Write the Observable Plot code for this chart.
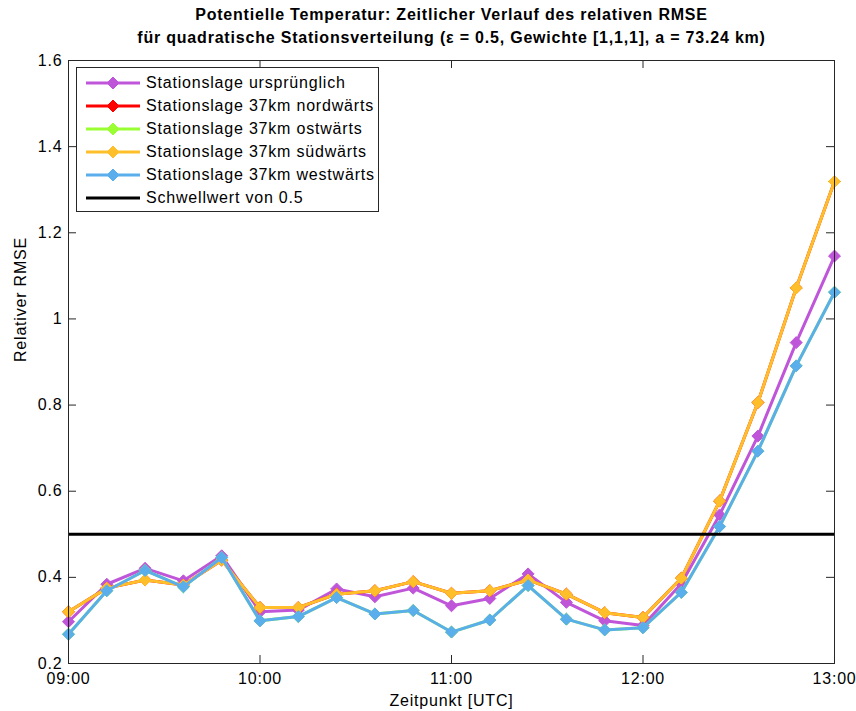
<!DOCTYPE html>
<html>
<head>
<meta charset="utf-8">
<script src="https://cdn.jsdelivr.net/npm/d3@7"></script>
<script src="https://cdn.jsdelivr.net/npm/@observablehq/plot@0.6"></script>
<style>
  html, body { margin: 0; padding: 0; background: #fff; }
  #wrap { position: relative; width: 856px; height: 711px; font-family: "Liberation Sans", Arial, sans-serif; }
  #wrap svg text { letter-spacing: 0.8px; }
  #legend { position: absolute; left: 76px; top: 67px; width: 303px; height: 145px; border: 1px solid #262626; background: #fff; box-sizing: border-box; }
  .row { position: absolute; left: 0; height: 20px; display: flex; align-items: center; }
  .row span { font-size: 16px; letter-spacing: 0.8px; color: #000; margin-left: 6px; white-space: nowrap; }
</style>
</head>
<body>
<div id="wrap"><div id="legend"></div></div>
<script>
// ---- data ----
const times = ["09:00","09:12","09:24","09:36","09:48","10:00","10:12","10:24","10:36","10:48","11:00",
               "11:12","11:24","11:36","11:48","12:00","12:12","12:24","12:36","12:48","13:00"];
const ursprunglich = [0.297,0.384,0.421,0.392,0.450,0.320,0.324,0.373,0.355,0.375,0.334,
                      0.351,0.408,0.342,0.299,0.288,0.385,0.545,0.728,0.945,1.146];
const nordwarts    = [0.320,0.375,0.394,0.382,0.440,0.330,0.330,0.361,0.369,0.390,0.363,
                      0.369,0.394,0.361,0.318,0.307,0.398,0.577,0.806,1.072,1.319];
const ostwarts     = [0.268,0.369,0.416,0.378,0.446,0.299,0.309,0.353,0.315,0.323,0.273,
                      0.301,0.381,0.303,0.278,0.283,0.365,0.518,0.693,0.891,1.062];
const sudwarts     = [0.320,0.375,0.394,0.382,0.440,0.330,0.330,0.361,0.369,0.390,0.363,
                      0.369,0.394,0.361,0.318,0.307,0.398,0.577,0.806,1.072,1.319];
const westwarts    = [0.268,0.369,0.416,0.378,0.446,0.299,0.309,0.353,0.315,0.323,0.273,
                      0.301,0.381,0.303,0.278,0.283,0.365,0.518,0.693,0.891,1.062];
const threshold = 0.5;
const seriesNames = ["Stationslage ursprünglich","Stationslage 37km nordwärts","Stationslage 37km ostwärts",
                     "Stationslage 37km südwärts","Stationslage 37km westwärts"];
const seriesColors = ["#bf55d9","#ff0000","#99ff33","#ffbf2a","#5aaeeb"];
const thresholdLabel = "Schwellwert von 0.5";
const xTickLabels = ["09:00","10:00","11:00","12:00","13:00"];
const yTicks = [0.2,0.4,0.6,0.8,1.0,1.2,1.4,1.6];
const title1 = "Potentielle Temperatur: Zeitlicher Verlauf des relativen RMSE";
const title2 = "für quadratische Stationsverteilung (ε = 0.5, Gewichte [1,1,1], a = 73.24 km)";
const xLabel = "Zeitpunkt [UTC]";
const yLabel = "Relativer RMSE";

// ---- build ----
const toDate = t => new Date(`2000-01-01T${t}:00Z`);
const allValues = [ursprunglich, nordwarts, ostwarts, sudwarts, westwarts];
const rows = [];
allValues.forEach((vals, s) => vals.forEach((v, i) => rows.push({series: s, t: toDate(times[i]), v})));
const xTicks = xTickLabels.map(toDate);

const W = 856, H = 711, mt = 60, mb = 48, ml = 68, mr = 22;
const fw = W - ml - mr, fh = H - mt - mb;
const tickLen = 8;
const axisColor = "#262626";
const markerR = 5.4;

const marks = [];
// series lines + markers (drawn in legend order)
seriesColors.forEach((c, s) => {
  const d = rows.filter(r => r.series === s);
  marks.push(Plot.line(d, {x: "t", y: "v", stroke: c, strokeWidth: 3}));
  marks.push(Plot.dot(d, {x: "t", y: "v", symbol: "diamond2", r: markerR, fill: c, stroke: c, strokeWidth: 1}));
});
marks.push(Plot.ruleY([threshold], {stroke: "#000", strokeWidth: 3}));
// inward ticks (bottom, top, left, right)
marks.push(Plot.tickX(xTicks, {x: d => d, stroke: axisColor, insetTop: fh - tickLen}));
marks.push(Plot.tickX(xTicks, {x: d => d, stroke: axisColor, insetBottom: fh - tickLen}));
marks.push(Plot.tickY(yTicks, {y: d => d, stroke: axisColor, insetRight: fw - tickLen}));
marks.push(Plot.tickY(yTicks, {y: d => d, stroke: axisColor, insetLeft: fw - tickLen}));
marks.push(Plot.frame({stroke: axisColor, strokeWidth: 1}));
// tick labels
marks.push(Plot.axisX(xTicks, {anchor: "bottom", tickSize: 0, tickPadding: 9, tickFormat: d3.utcFormat("%H:%M"), fontSize: 16, fill: "#000", label: null}));
marks.push(Plot.axisY(yTicks, {anchor: "left", tickSize: 0, tickPadding: 6, tickFormat: d => String(+d.toFixed(1)), fontSize: 16, fill: "#000", label: null}));
// titles and axis labels
marks.push(Plot.text([title1], {text: d => d, frameAnchor: "top", dy: -46, fontSize: 16, fontWeight: "bold", fill: "#000", lineAnchor: "middle"}));
marks.push(Plot.text([title2], {text: d => d, frameAnchor: "top", dy: -23, fontSize: 16, fontWeight: "bold", fill: "#000", lineAnchor: "middle"}));
marks.push(Plot.text([xLabel], {text: d => d, frameAnchor: "bottom", dy: 37, fontSize: 16, fill: "#000", lineAnchor: "middle"}));
marks.push(Plot.text([yLabel], {text: d => d, frameAnchor: "left", dx: -48, rotate: -90, fontSize: 16, fill: "#000", lineAnchor: "middle"}));

const chart = Plot.plot({
  width: W, height: H,
  marginTop: mt, marginBottom: mb, marginLeft: ml, marginRight: mr,
  style: {fontFamily: '"Liberation Sans", Arial, sans-serif', background: "#fff"},
  x: {type: "utc", domain: [toDate("09:00"), toDate("13:00")], axis: null},
  y: {domain: [0.2, 1.6], axis: null},
  marks
});
document.getElementById("wrap").prepend(chart);

// legend
const legend = document.getElementById("legend");
const entries = seriesNames.map((n, i) => ({name: n, color: seriesColors[i], marker: true}))
  .concat([{name: thresholdLabel, color: "#000", marker: false}]);
entries.forEach((e, i) => {
  const row = document.createElement("div");
  row.className = "row";
  row.style.top = (4.5 + i * 23) + "px";
  const svg = d3.create("svg").attr("width", 63).attr("height", 20).style("display", "block");
  svg.append("line").attr("x1", 9).attr("x2", 63).attr("y1", 10).attr("y2", 10)
     .attr("stroke", e.color).attr("stroke-width", 3);
  if (e.marker) {
    svg.append("path").attr("d", d3.symbol(d3.symbolDiamond2, Math.PI * markerR * markerR)())
       .attr("transform", "translate(36,10)").attr("fill", e.color).attr("stroke", e.color);
  }
  row.appendChild(svg.node());
  const span = document.createElement("span");
  span.textContent = e.name;
  row.appendChild(span);
  legend.appendChild(row);
});
</script>
</body>
</html>
